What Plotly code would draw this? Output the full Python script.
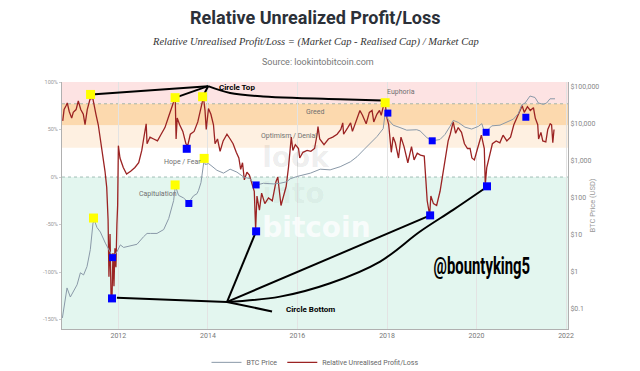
import plotly.graph_objects as go

# ---------------- data ----------------
rupl_dates = [
    "2010-10-04", "2010-10-15", "2010-10-31", "2010-11-10", "2010-11-26", "2010-12-16", "2010-12-29",
    "2011-01-21", "2011-02-08", "2011-02-28", "2011-03-21", "2011-04-04", "2011-04-22", "2011-05-15",
    "2011-06-06", "2011-06-19", "2011-07-02", "2011-07-21", "2011-08-04", "2011-08-18", "2011-08-31",
    "2011-09-14", "2011-09-28", "2011-10-09", "2011-10-16", "2011-10-25", "2011-11-02", "2011-11-10",
    "2011-11-18", "2011-11-26", "2011-12-04", "2011-12-12", "2011-12-20", "2011-12-26", "2012-01-01",
    "2012-01-14", "2012-02-10", "2012-03-08", "2012-04-10", "2012-05-15", "2012-06-15", "2012-07-10",
    "2012-07-25", "2012-08-15", "2012-08-22", "2012-09-15", "2012-10-15", "2012-11-15", "2012-12-15",
    "2013-01-15", "2013-02-15", "2013-03-15", "2013-04-09", "2013-04-16", "2013-04-25", "2013-05-15",
    "2013-06-10", "2013-07-05", "2013-07-20", "2013-08-10", "2013-09-10", "2013-10-10", "2013-11-01",
    "2013-11-25", "2013-12-08", "2013-12-18", "2014-01-05", "2014-01-25", "2014-02-15", "2014-02-28",
    "2014-03-20", "2014-04-10", "2014-05-05", "2014-06-05", "2014-07-01", "2014-07-25", "2014-08-20",
    "2014-09-10", "2014-09-25", "2014-10-10", "2014-10-25", "2014-11-15", "2014-12-05", "2014-12-25",
    "2015-01-14", "2015-01-25", "2015-02-05", "2015-02-25", "2015-03-15", "2015-04-10", "2015-05-10",
    "2015-06-10", "2015-07-10", "2015-07-25", "2015-08-20", "2015-09-10", "2015-10-01", "2015-10-20",
    "2015-11-05", "2015-11-12", "2015-11-25", "2015-12-15", "2016-01-10", "2016-01-20", "2016-02-15",
    "2016-03-20", "2016-04-20", "2016-05-20", "2016-06-10", "2016-06-17", "2016-07-01", "2016-08-05",
    "2016-09-10", "2016-10-15", "2016-11-20", "2016-12-20", "2017-01-05", "2017-01-12", "2017-02-15",
    "2017-03-10", "2017-03-25", "2017-04-20", "2017-05-25", "2017-06-15", "2017-07-15", "2017-08-10",
    "2017-09-01", "2017-09-15", "2017-10-10", "2017-11-01", "2017-11-15", "2017-12-05", "2017-12-17",
    "2018-01-01", "2018-01-15", "2018-02-05", "2018-02-20", "2018-03-10", "2018-04-05", "2018-04-25",
    "2018-05-20", "2018-06-20", "2018-07-20", "2018-08-10", "2018-09-05", "2018-10-01", "2018-11-01",
    "2018-11-15", "2018-11-25", "2018-12-15", "2018-12-25", "2019-01-15", "2019-02-10", "2019-03-10",
    "2019-04-02", "2019-04-20", "2019-05-15", "2019-06-01", "2019-06-25", "2019-07-15", "2019-08-05",
    "2019-09-01", "2019-09-25", "2019-10-20", "2019-11-10", "2019-11-25", "2019-12-15", "2020-01-10",
    "2020-02-10", "2020-03-05", "2020-03-13", "2020-03-25", "2020-04-15", "2020-05-10", "2020-06-10",
    "2020-07-10", "2020-08-05", "2020-09-05", "2020-10-05", "2020-11-01", "2020-11-25", "2020-12-20",
    "2021-01-08", "2021-01-25", "2021-02-20", "2021-03-15", "2021-04-10", "2021-04-25", "2021-05-15",
    "2021-05-22", "2021-06-10", "2021-06-25", "2021-07-20", "2021-08-05", "2021-08-25", "2021-09-05",
    "2021-09-15", "2021-09-25",
]
rupl_values = [
    0.59, 0.71, 0.75, 0.78, 0.69, 0.62, 0.68,
    0.71, 0.80, 0.71, 0.66, 0.55, 0.71, 0.82,
    0.83, 0.76, 0.66, 0.55, 0.43, 0.34, 0.20,
    0.06, -0.11, -0.45, -1.05, -0.60, -1.25, -1.28,
    -0.80, -1.15, -0.75, -0.95, -0.50, -0.30, 0.33,
    0.20, 0.10, 0.03, 0.06, 0.10, 0.15, 0.28,
    0.40, 0.56, 0.35, 0.42, 0.40, 0.38, 0.45,
    0.52, 0.64, 0.76, 0.84, 0.40, 0.62, 0.55,
    0.48, 0.35, 0.33, 0.45, 0.48, 0.58, 0.72,
    0.84, 0.70, 0.50, 0.72, 0.66, 0.55, 0.35,
    0.40, 0.27, 0.38, 0.45, 0.40, 0.35, 0.26,
    0.20, 0.08, 0.15, -0.03, 0.05, 0.02, -0.06,
    -0.15, -0.55, -0.20, -0.35, -0.17, -0.28, -0.22,
    -0.25, -0.05, 0.00, -0.30, -0.20, -0.10, 0.10,
    0.30, 0.42, 0.28, 0.34, 0.30, 0.20, 0.26,
    0.28, 0.27, 0.30, 0.45, 0.53, 0.40, 0.34,
    0.40, 0.42, 0.45, 0.50, 0.57, 0.45, 0.52,
    0.57, 0.48, 0.58, 0.70, 0.65, 0.56, 0.68,
    0.70, 0.58, 0.66, 0.70, 0.65, 0.76, 0.77,
    0.62, 0.55, 0.26, 0.42, 0.36, 0.20, 0.42,
    0.32, 0.15, 0.32, 0.18, 0.25, 0.23, 0.22,
    -0.05, -0.25, -0.40, -0.20, -0.28, -0.30, -0.15,
    0.05, 0.20, 0.38, 0.45, 0.58, 0.46, 0.52,
    0.47, 0.35, 0.30, 0.30, 0.20, 0.18, 0.30,
    0.44, 0.30, -0.08, 0.10, 0.22, 0.35, 0.38,
    0.36, 0.44, 0.38, 0.42, 0.55, 0.62, 0.70,
    0.75, 0.68, 0.74, 0.70, 0.73, 0.62, 0.55,
    0.40, 0.47, 0.38, 0.37, 0.50, 0.56, 0.55,
    0.36, 0.50,
]

btc_dates = [
    "2010-10-01", "2010-10-26", "2010-11-08", "2010-12-05", "2011-01-01", "2011-01-29", "2011-02-25",
    "2011-03-23", "2011-04-20", "2011-05-17", "2011-06-08", "2011-06-19", "2011-07-10", "2011-08-07",
    "2011-09-17", "2011-10-27", "2011-11-18", "2011-12-20", "2012-01-17", "2012-02-13", "2012-04-08",
    "2012-06-01", "2012-07-25", "2012-08-22", "2012-09-18", "2012-11-11", "2013-01-05", "2013-02-15",
    "2013-03-27", "2013-04-10", "2013-05-06", "2013-06-16", "2013-07-27", "2013-09-06", "2013-10-03",
    "2013-10-16", "2013-11-05", "2013-11-21", "2013-12-01", "2013-12-10", "2014-01-06", "2014-02-03",
    "2014-03-15", "2014-05-08", "2014-07-01", "2014-08-25", "2014-09-21", "2014-10-19", "2014-12-12",
    "2015-01-22", "2015-03-30", "2015-06-20", "2015-08-13", "2015-10-07", "2015-11-03", "2015-12-27",
    "2016-04-17", "2016-07-05", "2016-09-24", "2016-12-15", "2017-03-08", "2017-05-01", "2017-06-25",
    "2017-08-18", "2017-10-12", "2017-12-01", "2017-12-17", "2018-01-13", "2018-02-20", "2018-04-17",
    "2018-06-11", "2018-09-01", "2018-09-28", "2018-11-22", "2019-01-01", "2019-03-09", "2019-04-19",
    "2019-05-30", "2019-06-26", "2019-08-06", "2019-09-29", "2019-11-23", "2020-01-16", "2020-02-14",
    "2020-03-12", "2020-03-25", "2020-05-05", "2020-07-11", "2020-09-04", "2020-10-28", "2020-12-08",
    "2021-01-05", "2021-02-01", "2021-03-13", "2021-04-23", "2021-05-20", "2021-06-29", "2021-07-27",
    "2021-08-23", "2021-09-19", "2021-10-03",
]
btc_prices = [
    0.057, 0.17, 0.37, 0.21, 0.30, 0.45, 0.95,
    0.83, 1.4, 4.0, 21, 25, 16, 12,
    6.0, 3.5, 2.5, 3.5, 5.4, 4.6, 5.0,
    5.6, 9.0, 11, 11, 11, 14, 28,
    85, 215, 118, 100, 75, 115, 130,
    160, 260, 750, 1100, 800, 850, 720,
    560, 470, 600, 500, 420, 370, 330,
    220, 250, 240, 250, 275, 330, 380,
    470, 600, 575, 700, 950, 1300, 2000,
    3000, 4600, 7500, 19500, 13000, 9300, 8000,
    6800, 7000, 6500, 4300, 3500, 3800, 5200,
    8600, 12500, 11000, 8200, 7300, 8600, 10200,
    5200, 6500, 8900, 9300, 11000, 13500, 19000,
    33000, 37000, 57000, 52000, 37000, 34000, 37000,
    48000, 47000, 48000,
]

# hand-drawn markup (cycle tops / bottoms) placed in data coordinates
top_rupl_dates = ["2011-05-19", "2013-04-08", "2013-11-18", "2017-12-17"]
top_rupl_values = [0.869, 0.835, 0.845, 0.782]
top_btc_dates = ["2011-06-12", "2013-04-08", "2013-12-01"]
top_btc_prices = [28.7, 225, 1175]
bottom_rupl_dates = ["2011-11-10", "2013-07-12", "2015-01-29", "2018-12-19", "2020-03-27"]
bottom_rupl_values = [-1.278, 0.297, -0.572, -0.404, -0.098]
bottom_btc_dates = ["2011-11-15", "2013-07-29", "2015-01-29", "2018-01-08", "2019-01-05", "2020-03-20", "2021-02-07"]
bottom_btc_prices = [2.44, 71, 225, 19700, 3510, 5960, 15200]

top_hub = ("2014-01-02", 0.956)
top_targets = [("2011-05-25", 0.869), ("2013-04-10", 0.835), ("2013-11-20", 0.845)]
top_curve_dates = ["2014-01-02", "2014-07-01", "2015-03-27", "2015-12-30", "2016-12-15", "2017-11-25"]
top_curve_values = [0.956, 0.884, 0.848, 0.831, 0.819, 0.805]

bottom_hub = ("2014-06-06", -1.315)
bottom_targets = [("2011-12-20", -1.27), ("2015-01-29", -0.572), ("2018-12-19", -0.404), ("2015-06-08", -1.415)]
bottom_curve_dates = ["2014-06-06", "2015-08-12", "2016-09-24", "2017-11-06", "2018-09-28", "2019-06-25", "2020-03-04"]
bottom_curve_values = [-1.315, -1.259, -1.118, -0.890, -0.574, -0.346, -0.124]

zones = [  # (low, high, colour)
    (0.771, 1.0, "#fde3e3"),
    (0.543, 0.771, "#fcd9ae"),
    (0.308, 0.543, "#fef0e1"),
    (-1.6, 0.0, "#e3f6ef"),
]
zone_labels = [
    ("Euphoria", "2018-04-23", 0.895),
    ("Greed", "2016-05-25", 0.684),
    ("Optimism / Denial", "2015-10-25", 0.427),
    ("Hope / Fear", "2013-06-04", 0.163),
    ("Capitulation", "2012-11-16", -0.177),
]
watermark = [("look", "2015-03-20", 0.175, "rgba(0,0,0,0.08)"),
             ("into", "2015-03-20", -0.195, "rgba(0,0,0,0.05)"),
             ("bitcoin", "2015-03-20", -0.555, "rgba(255,255,255,0.75)")]

# ---------------- figure ----------------
fig = go.Figure()

for txt, d, v, col in watermark:
    fig.add_trace(go.Scatter(x=[d], y=[v], mode="text", text=[txt], textposition="middle right",
                             textfont=dict(family="DejaVu Sans", size=28, color=col, weight="bold"),
                             showlegend=False, hoverinfo="skip"))

fig.add_trace(go.Scatter(x=btc_dates, y=btc_prices, name="BTC Price", yaxis="y2", mode="lines",
                         line=dict(color="#8a99a8", width=1)))
fig.add_trace(go.Scatter(x=rupl_dates, y=rupl_values, name="Relative Unrealised Profit/Loss", mode="lines",
                         line=dict(color="#9b2323", width=1.3)))

line_style = dict(color="black", width=2)
for d, v in top_targets:
    fig.add_trace(go.Scatter(x=[top_hub[0], d], y=[top_hub[1], v], mode="lines", line=line_style,
                             showlegend=False, hoverinfo="skip"))
fig.add_trace(go.Scatter(x=top_curve_dates, y=top_curve_values, mode="lines",
                         line=dict(color="black", width=2, shape="spline"), showlegend=False, hoverinfo="skip"))
for d, v in bottom_targets:
    fig.add_trace(go.Scatter(x=[bottom_hub[0], d], y=[bottom_hub[1], v], mode="lines", line=line_style,
                             showlegend=False, hoverinfo="skip"))
fig.add_trace(go.Scatter(x=bottom_curve_dates, y=bottom_curve_values, mode="lines",
                         line=dict(color="black", width=2, shape="spline"), showlegend=False, hoverinfo="skip"))

fig.add_trace(go.Scatter(x=top_rupl_dates, y=top_rupl_values, mode="markers", showlegend=False, hoverinfo="skip",
                         marker=dict(symbol="square", size=9, color="#ffff00", line=dict(width=0))))
fig.add_trace(go.Scatter(x=top_btc_dates, y=top_btc_prices, yaxis="y2", mode="markers", showlegend=False,
                         hoverinfo="skip", marker=dict(symbol="square", size=9, color="#ffff00", line=dict(width=0))))
fig.add_trace(go.Scatter(x=bottom_rupl_dates, y=bottom_rupl_values, mode="markers", showlegend=False,
                         hoverinfo="skip", marker=dict(symbol="square", size=8, color="#0000ff", line=dict(width=0))))
fig.add_trace(go.Scatter(x=bottom_btc_dates, y=bottom_btc_prices, yaxis="y2", mode="markers", showlegend=False,
                         hoverinfo="skip", marker=dict(symbol="square", size=7, color="#0000ff", line=dict(width=0))))

shapes = []
for lo, hi, col in zones:
    shapes.append(dict(type="rect", xref="paper", yref="y", x0=0, x1=1, y0=lo, y1=hi,
                       fillcolor=col, line=dict(width=0), layer="below"))
for lvl in (0.771, 0.0):
    shapes.append(dict(type="line", xref="paper", yref="y", x0=0, x1=1, y0=lvl, y1=lvl,
                       line=dict(color="rgba(110,150,140,0.6)", width=1, dash="dot"), layer="below"))

annotations = [
    dict(text="<b>Relative Unrealized Profit/Loss</b>", xref="paper", yref="paper", x=0.5, y=1.261,
         xanchor="center", yanchor="middle", showarrow=False,
         font=dict(family="Roboto", size=18, color="#2b3038")),
    dict(text="<i>Relative Unrealised Profit/Loss = (Market Cap - Realised Cap) / Market Cap</i>",
         xref="paper", yref="paper", x=0.5, y=1.160, xanchor="center", yanchor="middle", showarrow=False,
         font=dict(family="Liberation Serif", size=10.5, color="#333333")),
    dict(text="Source: lookintobitcoin.com", xref="paper", yref="paper", x=0.505, y=1.082,
         xanchor="center", yanchor="middle", showarrow=False,
         font=dict(family="Roboto", size=9, color="#777777")),
    dict(text="BTC Price (USD)", xref="paper", yref="paper", x=1.0475, y=0.5, textangle=-90,
         xanchor="center", yanchor="middle", showarrow=False,
         font=dict(family="Roboto", size=7.5, color="#999999")),
    dict(text="<b>Circle Top</b>", x="2014-08-26", y=0.937, showarrow=False,
         font=dict(family="Roboto", size=8, color="black")),
    dict(text="<b>Circle Bottom</b>", x="2016-04-14", y=-1.399, showarrow=False,
         font=dict(family="Roboto", size=8, color="black")),
    dict(text="<b>@bountyking5</b>", x="2020-02-17", y=-0.936, showarrow=False,
         font=dict(family="Roboto", size=24, color="black")),
]
for txt, d, v in zone_labels:
    annotations.append(dict(text=txt, x=d, y=v, showarrow=False,
                            font=dict(family="Roboto", size=7, color="#707070")))

fig.update_layout(
    width=640, height=371,
    margin=dict(l=62, r=72, t=82, b=42, autoexpand=False),
    paper_bgcolor="white", plot_bgcolor="white",
    font=dict(family="Roboto", color="#777777"),
    shapes=shapes, annotations=annotations,
    xaxis=dict(type="date", range=["2010-09-28", "2022-01-17"], dtick="M24", tick0="2012-01-01",
               tickformat="%Y", showgrid=True, gridcolor="#e3e3e3", gridwidth=1,
               showline=True, linecolor="#b0b0b0", linewidth=1, zeroline=False,
               tickfont=dict(size=7, color="#777777")),
    yaxis=dict(range=[-1.6, 1.0], tickvals=[-1.5, -1.0, -0.5, 0, 0.5, 1.0],
               ticktext=["-150%", "-100%", "-50%", "0%", "50%", "100%"], showgrid=False, zeroline=False,
               showline=True, linecolor="#b0b0b0", linewidth=1, ticks="outside", ticklen=2,
               tickcolor="#cccccc", tickfont=dict(size=5.5, color="#999999")),
    yaxis2=dict(type="log", range=[-1.542, 5.135], overlaying="y", side="right",
                tickvals=[0.1, 1, 10, 100, 1000, 10000, 100000],
                ticktext=["$0.1", "$1", "$10", "$100", "$1,000", "$10,000", "$100,000"],
                showgrid=False, zeroline=False, showline=True, linecolor="#b0b0b0", linewidth=1,
                tickfont=dict(size=7, color="#888888")),
    legend=dict(orientation="h", x=0.5, xanchor="center", y=-0.135, yanchor="middle",
                font=dict(size=7, color="#666666"), bgcolor="rgba(0,0,0,0)"),
)

# page body without default margin; squeeze the heavy signature text horizontally (stays real text)
post_js = """
document.body.style.margin = '0';
var gd = document.getElementById('{plot_id}');
gd.querySelectorAll('text.annotation-text').forEach(function(t){
  if (t.textContent === '@bountyking5') {
    var b = t.getBBox(); var cx = b.x + b.width / 2;
    var tr = t.getAttribute('transform') || '';
    t.setAttribute('transform', tr + ' translate(' + cx + ',0) scale(0.62,1) translate(' + (-cx) + ',0)');
  }
});
"""

fig.write_html("out.html", post_script=post_js, config={"displayModeBar": False})
